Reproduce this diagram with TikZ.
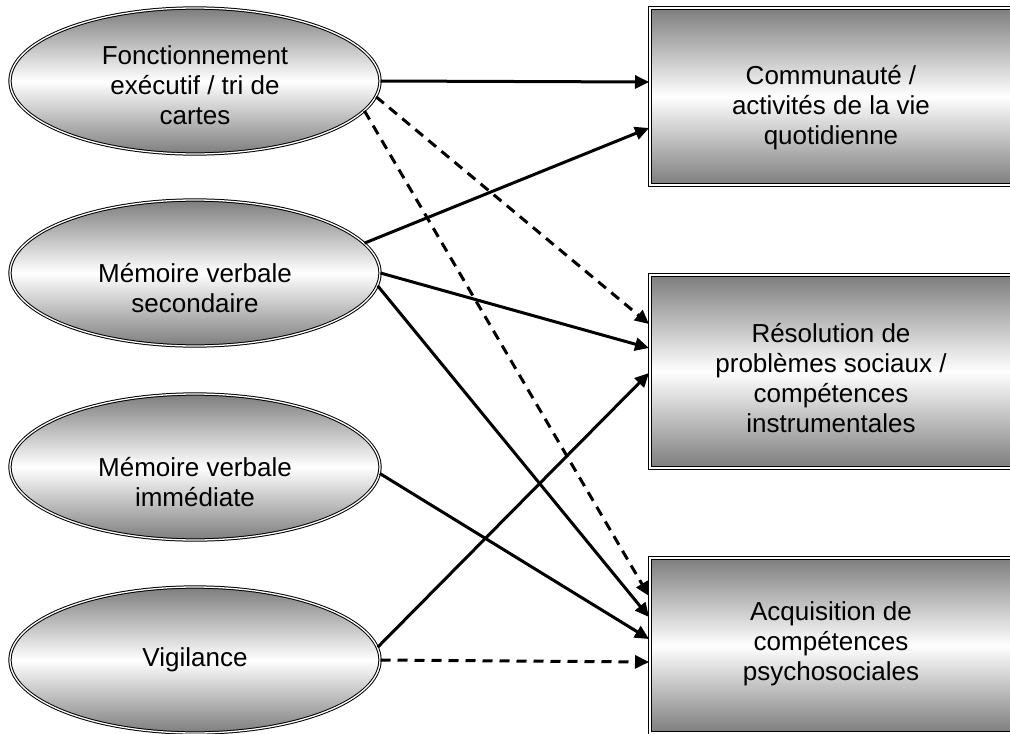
\documentclass[tikz,border=0pt]{standalone}
\usepackage{fontspec}
\setmainfont{Liberation Sans}
\usetikzlibrary{arrows.meta,shapes.geometric}
\definecolor{shadegray}{RGB}{125,125,125}
\begin{document}
\begin{tikzpicture}[x=1pt,y=-1pt,
  ell/.style={ellipse, minimum width=370pt, minimum height=146pt, inner sep=0pt,
    draw=black, line width=1pt, double=white, double distance=1.3pt,
    top color=shadegray, bottom color=shadegray, middle color=white},
  box/.style={rectangle, minimum width=362pt, inner sep=0pt,
    draw=black, line width=1.2pt, double=white, double distance=1.5pt,
    top color=shadegray, bottom color=shadegray, middle color=white},
  lbl/.style={font=\fontsize{26}{30}\selectfont, align=center, inner sep=0pt},
  arr/.style={line width=3pt, -{Triangle[length=14pt,width=13pt]}},
  darr/.style={arr, dash pattern=on 10pt off 7pt}]
\useasboundingbox (0,0) rectangle (1010,734);
\clip (0,0) rectangle (1010,734);
\fill[white] (0,0) rectangle (1010,734);

% ellipses
\node[ell] (e1) at (195,81) {};
\node[ell] (e2) at (195,273) {};
\node[ell] (e3) at (195,467) {};
\node[ell] (e4) at (195,660) {};
\node[lbl] (e1t) at (195,85) {Fonctionnement\\exécutif / tri de\\cartes};
\node[lbl] (e2t) at (195,288) {Mémoire verbale\\secondaire};
\node[lbl] (e3t) at (195,482) {Mémoire verbale\\immédiate};
\node[lbl] (e4t) at (195,660) {Vigilance};

% boxes
\node[box, minimum height=177pt] (b1) at (831,96.5) {};
\node[box, minimum height=193pt] (b2) at (831,371.5) {};
\node[box, minimum height=175pt] (b3) at (831,645.5) {};
\node[lbl] (b1t) at (831,108) {Communauté /\\activités de la vie\\quotidienne};
\node[lbl] (b2t) at (831,378) {Résolution de\\problèmes sociaux /\\compétences\\instrumentales};
\node[lbl] (b3t) at (831,644) {Acquisition de\\compétences\\psychosociales};

% arrow targets on box edges
\coordinate (b1a) at (649,82);
\coordinate (b1b) at (649,128);
\coordinate (b2a) at (649,324);
\coordinate (b2b) at (649,348);
\coordinate (b2c) at (649,373);
\coordinate (b3a) at (649,596);
\coordinate (b3b) at (649,617);
\coordinate (b3c) at (649,639);
\coordinate (b3d) at (649,662);

% connectors
\draw[arr]  (e1.0)   -- (b1a);
\draw[darr] (e1.-5)  -- (b2a);
\draw[darr] (e1.-10) -- (b3a);
\draw[arr]  (e2.10)  -- (b1b);
\draw[arr]  (e2.0)   -- (b2b);
\draw[arr]  (e2.-4)  -- (b3b);
\draw[arr]  (e3.-2.5) -- (b3c);
\draw[arr]  (e4.4)   -- (b2c);
\draw[darr] (e4.0)   -- (b3d);
\end{tikzpicture}
\end{document}
